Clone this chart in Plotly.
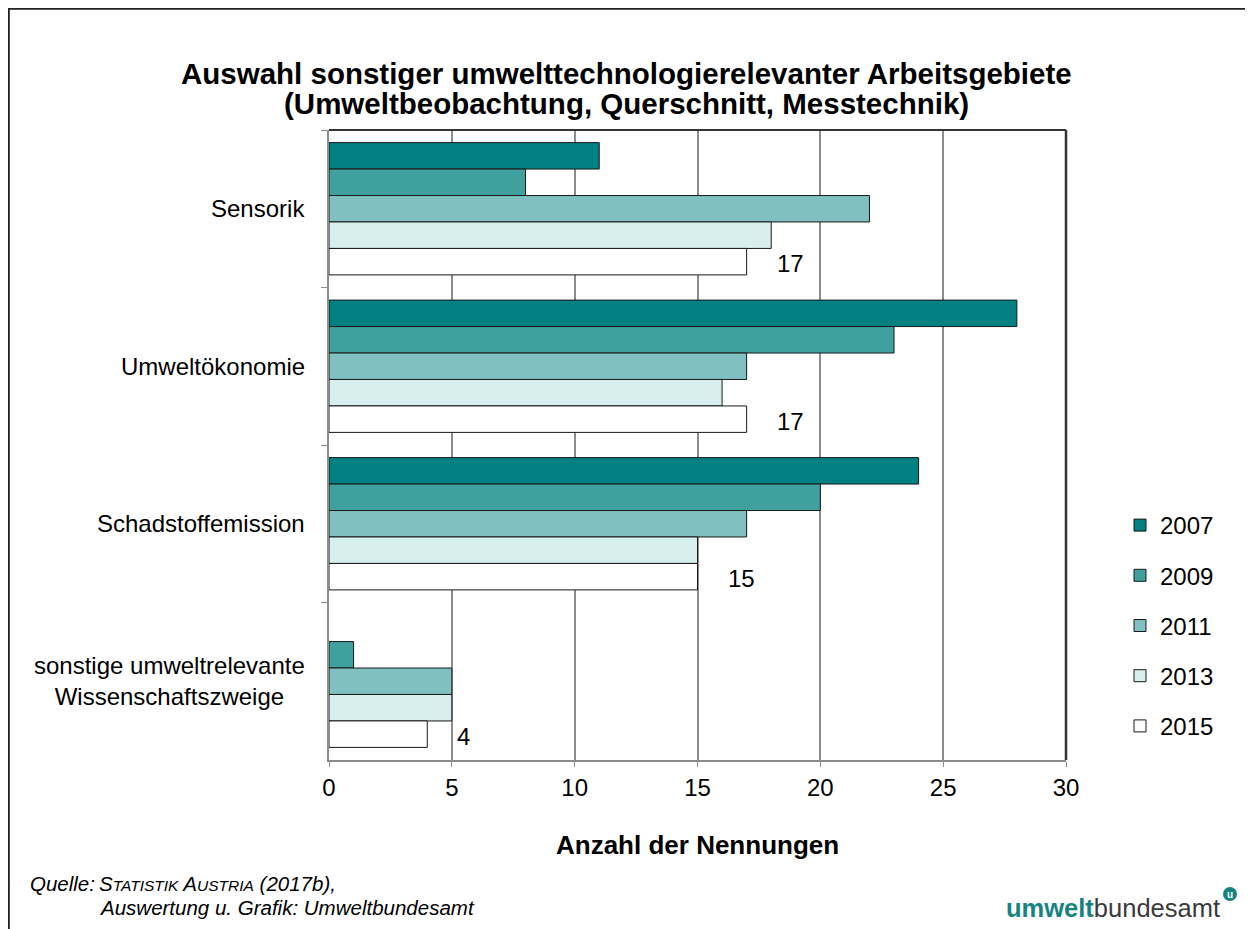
import plotly.graph_objects as go

categories = ["Sensorik", "Umweltökonomie", "Schadstoffemission",
              "sonstige umweltrelevante<br>Wissenschaftszweige"]
years = ["2007", "2009", "2011", "2013", "2015"]
values_2007 = [11, 28, 24, None]
values_2009 = [8, 23, 20, 1]
values_2011 = [22, 17, 17, 5]
values_2013 = [18, 16, 15, 5]
values_2015 = [17, 17, 15, 4]
series = [values_2007, values_2009, values_2011, values_2013, values_2015]
colors = ["#008080", "#40a09e", "#80c0c0", "#d7efef", "#ffffff"]

O = 8  # default page body margin
W, H = 1253 - O, 929 - O
L, R, T, B = 329, 1066, 130, 760
pw, ph = R - L, B - T


def px(x):
    return (x - L) / pw


def py(y):
    return (B - y) / ph


FONT = "Liberation Sans, Arial, sans-serif"

fig = go.Figure()
for yr, vals, col in zip(years, series, colors):
    fig.add_trace(go.Bar(
        y=categories, x=vals, name=yr, orientation="h",
        marker=dict(color=col, line=dict(color="#1a1a1a", width=1)),
        legendgroup=yr,
    ))

annotations = []
for c in categories:
    annotations.append(dict(x=px(307), xref="paper", y=c, yref="y", text=c,
                            xanchor="right", yanchor="middle", align="center",
                            showarrow=False, font=dict(size=24, color="#000", family=FONT)))
for c, v in zip(categories, values_2015):
    annotations.append(dict(x=v, y=c, xref="x", yref="y", text=str(v), xanchor="left",
                            yanchor="middle", xshift=28, yshift=-55, showarrow=False,
                            font=dict(size=24, color="#000", family=FONT)))
title_lines = ["Auswahl sonstiger umwelttechnologierelevanter Arbeitsgebiete",
               "(Umweltbeobachtung, Querschnitt, Messtechnik)"]
for ln, yy in zip(title_lines, [73, 104]):
    annotations.append(dict(x=px(626), y=py(yy), xref="paper", yref="paper",
                            text="<b>" + ln + "</b>", showarrow=False,
                            xanchor="center", yanchor="middle",
                            font=dict(size=29.5, color="#000", family=FONT)))
annotations.append(dict(x=0.5, y=py(845), xref="paper", yref="paper",
                        text="<b>Anzahl der Nennungen</b>", showarrow=False,
                        xanchor="center", yanchor="middle",
                        font=dict(size=26, color="#000", family=FONT)))
src_font = dict(size=20.5, color="#000", family=FONT)
annotations.append(dict(x=px(28), y=py(883), xref="paper", yref="paper",
                        text="<i>Quelle:</i>", showarrow=False, xanchor="left",
                        yanchor="middle", font=src_font))
annotations.append(dict(x=px(97), y=py(883), xref="paper", yref="paper",
                        text="<i>S<span style='font-size:15.5px'>TATISTIK</span> A<span style='font-size:15.5px'>USTRIA</span> (2017b),</i>",
                        showarrow=False, xanchor="left", yanchor="middle", font=src_font))
annotations.append(dict(x=px(97), y=py(907), xref="paper", yref="paper",
                        text="<i>Auswertung u. Grafik: Umweltbundesamt</i>",
                        showarrow=False, xanchor="left", yanchor="middle", font=src_font))
annotations.append(dict(x=px(1222), y=py(908), xref="paper", yref="paper",
                        text="<b><span style='color:#16837f'>umwelt</span></b><span style='color:#3a3a3a'>bundesamt</span>",
                        showarrow=False, xanchor="right", yanchor="middle",
                        font=dict(size=25.5, family=FONT)))
annotations.append(dict(x=px(1230), y=py(894), xref="paper", yref="paper",
                        text="<b>u</b>", showarrow=False, xanchor="center", yanchor="middle",
                        font=dict(size=10, color="#ffffff", family=FONT)))

shapes = [
    dict(type="rect", xref="paper", yref="paper", x0=px(8.8), x1=px(1280), y0=py(960), y1=py(8.8),
         line=dict(color="#222", width=2), fillcolor="rgba(0,0,0,0)", layer="below"),
    dict(type="line", xref="paper", yref="paper", x0=0, x1=1, y0=1, y1=1,
         line=dict(color="#333", width=2)),
    dict(type="line", xref="paper", yref="paper", x0=1, x1=1, y0=0, y1=1,
         line=dict(color="#333", width=2.5)),
    dict(type="circle", xref="paper", yref="paper", x0=px(1223), x1=px(1237),
         y0=py(901), y1=py(887), fillcolor="#16837f", line=dict(width=0)),
]

fig.update_layout(
    width=W, height=H,
    margin=dict(l=L - O, r=1253 - R, t=T - O, b=929 - B, autoexpand=False),
    paper_bgcolor="white", plot_bgcolor="white",
    barmode="group", bargap=0.16, bargroupgap=0,
    font=dict(family=FONT, size=24, color="#000"),
    showlegend=True,
    legend=dict(x=px(1120), y=py(503), xanchor="left", yanchor="top",
                font=dict(size=24, family=FONT), tracegroupgap=16,
                itemwidth=30, bgcolor="rgba(0,0,0,0)"),
    annotations=annotations,
    shapes=shapes,
    xaxis=dict(range=[0, 30], dtick=5, tick0=0, showgrid=True, gridcolor="#8c8c8c",
               gridwidth=2, zeroline=False, showline=True, linecolor="#8c8c8c",
               linewidth=2, ticks="outside", ticklen=5, tickcolor="#8c8c8c",
               tickfont=dict(size=24, family=FONT), fixedrange=True),
    yaxis=dict(autorange="reversed", showticklabels=False, showline=True,
               linecolor="#8c8c8c", linewidth=2, ticks="outside", ticklen=6,
               tickcolor="#8c8c8c", tickson="boundaries", showgrid=False,
               fixedrange=True),
)

fig.write_html("out.html")
